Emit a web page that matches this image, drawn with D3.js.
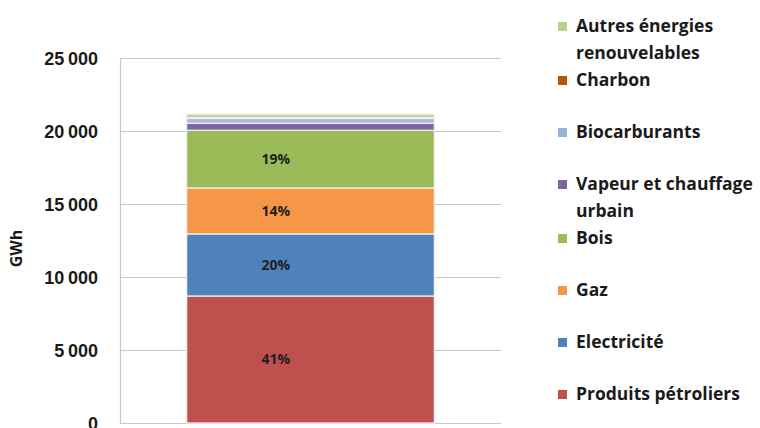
<!DOCTYPE html>
<html>
<head>
<meta charset="utf-8">
<script src="https://cdn.jsdelivr.net/npm/d3@7"></script>
<style>
  body { margin: 0; background: #fff; }
  svg { display: block; font-family: "Open Sans", "Noto Sans", sans-serif; }
</style>
</head>
<body>
<div id="chart"></div>
<script>
const width = 760;
const height = 428;
const margin = { top: 58, right: 259, bottom: 5, left: 120 };

const usableArea = {
  top: margin.top,
  right: width - margin.right,
  bottom: height - margin.bottom,
  left: margin.left,
  width: width - margin.left - margin.right,
  height: height - margin.top - margin.bottom,
};

// Data (GWh), bottom to top of the stack
const sources = ["Produits pétroliers", "Electricité", "Gaz", "Bois",
  "Vapeur et chauffage urbain", "Biocarburants", "Charbon", "Autres énergies renouvelables"];
const values = [8700, 4250, 3150, 3950, 480, 330, 40, 260];
const pctLabels = ["41%", "20%", "14%", "19%", "", "", "", ""];
const colors = ["#C0504D", "#4F81BD", "#F79646", "#9BBB59", "#8064A2", "#A9B9DE", "#E8B9A8", "#C3D69B"];

// legend order (top to bottom) and its lines
const legendOrder = ["Autres énergies renouvelables", "Charbon", "Biocarburants",
  "Vapeur et chauffage urbain", "Bois", "Gaz", "Electricité", "Produits pétroliers"];
const legendLines = {
  "Autres énergies renouvelables": ["Autres énergies", "renouvelables"],
  "Vapeur et chauffage urbain": ["Vapeur et chauffage", "urbain"],
};
const legendColors = {
  "Autres énergies renouvelables": "#B9CF8E",
  "Charbon": "#B65708",
  "Biocarburants": "#95B3D7",
  "Vapeur et chauffage urbain": "#8064A2",
  "Bois": "#9BBB59",
  "Gaz": "#F79646",
  "Electricité": "#4F81BD",
  "Produits pétroliers": "#C0504D",
};
const yTicks = [0, 5000, 10000, 15000, 20000, 25000];

const svg = d3.select("#chart").append("svg")
  .attr("width", width)
  .attr("height", height);

const xScale = d3.scaleBand()
  .domain(["total"])
  .range([usableArea.left, usableArea.right])
  .paddingInner(0.35)
  .paddingOuter(0.175);

const yScale = d3.scaleLinear()
  .domain([0, 25000])
  .range([usableArea.bottom, usableArea.top]);

// gridlines
svg.append("g")
  .attr("transform", `translate(${usableArea.left},0)`)
  .call(d3.axisLeft(yScale).tickValues(yTicks).tickFormat("").tickSize(-usableArea.width))
  .call(g => g.select(".domain").remove())
  .call(g => g.selectAll("line").attr("stroke", "#c8c8c8").attr("stroke-width", 1.2));

// y axis
const fmt = d => d3.format(",")(d).replace(",", "\u2009");
svg.append("g")
  .attr("transform", `translate(${usableArea.left},0)`)
  .call(d3.axisLeft(yScale).tickValues(yTicks).tickFormat(fmt).tickSize(0).tickPadding(22))
  .call(g => g.select(".domain").attr("stroke", "#c8c8c8").attr("stroke-width", 1.2))
  .call(g => g.selectAll("text")
    .attr("fill", "#1a1a1a")
    .style("font-size", "18px")
    .style("font-weight", "700")
    .attr("dy", "0.35em"));

svg.append("text")
  .attr("transform", `translate(22, ${yScale(12500) + 8}) rotate(-90)`)
  .attr("text-anchor", "middle")
  .attr("fill", "#1a1a1a")
  .style("font-size", "16px")
  .style("font-weight", "700")
  .text("GWh");

// stacked segments
const stacked = [];
let acc = 0;
values.forEach((v, i) => {
  stacked.push({ name: sources[i], y0: acc, y1: acc + v, color: colors[i], label: pctLabels[i] });
  acc += v;
});

const bars = svg.append("g");
bars.selectAll("rect")
  .data(stacked)
  .join("rect")
  .attr("x", xScale("total"))
  .attr("width", xScale.bandwidth())
  .attr("y", d => yScale(d.y1))
  .attr("height", d => yScale(d.y0) - yScale(d.y1))
  .attr("fill", d => d.color)
  .attr("stroke", "#f3f3f3")
  .attr("stroke-width", 1.2);

bars.selectAll("text")
  .data(stacked.filter(d => d.label))
  .join("text")
  .attr("x", xScale("total") + xScale.bandwidth() * 0.36)
  .attr("y", d => yScale((d.y0 + d.y1) / 2))
  .attr("dy", "0.35em")
  .attr("text-anchor", "middle")
  .attr("fill", "#1f1f1f")
  .style("font-size", "14px")
  .style("font-weight", "700")
  .text(d => d.label);

// legend
const legend = svg.append("g");
let ly = 26;
legendOrder.forEach(name => {
  const lines = legendLines[name] || [name];
  legend.append("rect")
    .attr("x", 558)
    .attr("y", ly - 4)
    .attr("width", 9)
    .attr("height", 9)
    .attr("fill", legendColors[name]);
  lines.forEach((t, i) => {
    legend.append("text")
      .attr("x", 576)
      .attr("y", ly + i * 27)
      .attr("dy", "0.35em")
      .attr("fill", "#1a1a1a")
      .style("font-size", "17.5px")
      .style("font-weight", "700")
      .text(t);
  });
  ly += Math.max(lines.length * 27, 52);
});
</script>
</body>
</html>
